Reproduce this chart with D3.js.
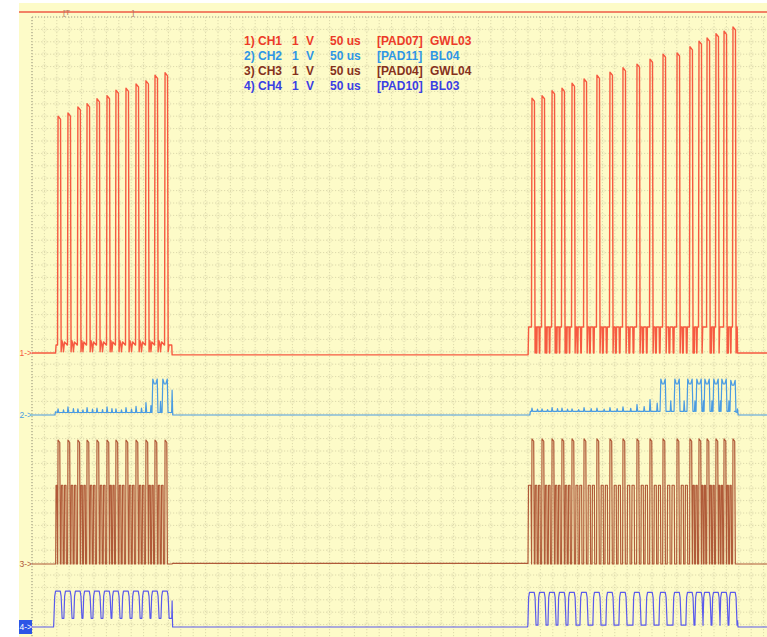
<!DOCTYPE html>
<html>
<head>
<meta charset="utf-8">
<script src="https://cdn.jsdelivr.net/npm/d3@7/dist/d3.min.js"></script>
<style>
  html, body { margin: 0; padding: 0; background: #fff; }
  text { font-family: "Liberation Sans", Arial, sans-serif; }
</style>
</head>
<body>
<div id="scope"></div>
<script>
// values: time in us (50 us / div), level in V (1 V / div)
var pulseTimesLeft = [21, 29, 37, 44.4, 52.4, 60.5, 67.7, 75.8, 83.9, 91.9, 99.2, 107.3];
var pulseTimesRight = [403.2, 411.3, 419.4, 427.4, 435.5, 445.2, 455.6, 466.1, 476.6, 487.9,
  498.4, 508.9, 520.2, 530.6, 537.9, 544.4, 551.6, 558.1, 565.3];
var burstLeft = [18.5, 113];
var burstRight = [399.5, 569];

// CH1 - GWL03
var ch1PeaksLeft = [3.82, 3.87, 3.97, 4.02, 4.1, 4.15, 4.24, 4.27, 4.34, 4.39, 4.48, 4.52];
var ch1PeaksRight = [4.11, 4.15, 4.23, 4.27, 4.35, 4.42, 4.48, 4.53, 4.6, 4.66, 4.74, 4.82,
  4.84, 4.94, 5.03, 5.08, 5.15, 5.19, 5.26];
var ch1GapLevel = [0.13, 0.42];

// CH2 - BL04
var ch2PeaksLeft = [0.1, 0.13, 0.1, 0.12, 0.11, 0.13, 0.1, 0.12, 0.14, 0.2, 0.58, 0.58];
var ch2PeaksRight = [0.11, 0.1, 0.12, 0.11, 0.1, 0.12, 0.11, 0.12, 0.13, 0.17, 0.25, 0.58,
  0.58, 0.58, 0.58, 0.58, 0.58, 0.58, 0.56];
var ch2EndSpikes = [0.4, 0.1];

// CH3 - GWL04
var ch3Peak = [2.0, 2.02];
var ch3Mid = 1.27;

// CH4 - BL03
var ch4Top = [0.58, 0.56];
var ch4Trough = [0.14, 0.03];
var ch4EndSpikes = [0.42, 0.1];

var legendRows = [
  ["1) CH1", "1", "V", "50 us", "[PAD07]", "GWL03"],
  ["2) CH2", "1", "V", "50 us", "[PAD11]", "BL04"],
  ["3) CH3", "1", "V", "50 us", "[PAD04]", "GWL04"],
  ["4) CH4", "1", "V", "50 us", "[PAD10]", "BL03"]
];

var cfg = {
  w: 767, h: 637,
  left: 32, top: 17,
  div: 12.4,
  baselines: [353, 415, 564, 627],
  traceColors: ["#f65a40", "#4a9be2", "#b05a38", "#5a5aec"],
  textColors: ["#ec3a28", "#2f96e6", "#86301c", "#3a40e4"],
  legendX: [244, 292, 306, 330, 377, 430],
  legendY: 45, legendStep: 15
};

var svg = d3.select("#scope").append("svg")
  .attr("width", cfg.w).attr("height", cfg.h);

// time scale: minor grid = 10 us
var x = d3.scaleLinear().domain([0, 593]).range([cfg.left, cfg.left + 593 * cfg.div / 10]);
var yScales = cfg.baselines.map(function(b) {
  return d3.scaleLinear().domain([0, 1]).range([b, b - 5 * cfg.div]);
});

// screen background
svg.append("rect").attr("x", 19).attr("y", 3).attr("width", cfg.w - 19).attr("height", cfg.h - 3)
  .attr("fill", "#fdfbc8");

// grid
var grid = svg.append("g");
var gx = d3.range(0, 593, 10);
var gy = d3.range(0, 50);
grid.selectAll(".vl").data(gx).enter().append("line")
  .attr("x1", function(d) { return x(d); }).attr("x2", function(d) { return x(d); })
  .attr("y1", cfg.top).attr("y2", cfg.h)
  .attr("stroke", function(d) { return d == 0 ? "#8d8a74" : "#dcd9aa"; })
  .attr("stroke-dasharray", "1.2,1.8");
grid.selectAll(".hl").data(gy).enter().append("line")
  .attr("x1", cfg.left).attr("x2", cfg.w)
  .attr("y1", function(d) { return cfg.top + d * cfg.div; })
  .attr("y2", function(d) { return cfg.top + d * cfg.div; })
  .attr("stroke", function(d) { return d == 0 ? "#a09d84" : "#dcd9aa"; })
  .attr("stroke-dasharray", "1.2,1.8");
var cross = [];
gx.forEach(function(a) { gy.forEach(function(b) { if (a > 0 && b > 0) cross.push([a, b]); }); });
grid.selectAll("circle").data(cross).enter().append("circle")
  .attr("cx", function(d) { return x(d[0]); })
  .attr("cy", function(d) { return cfg.top + d[1] * cfg.div; })
  .attr("r", 2.2)
  .attr("fill", "none").attr("stroke", "#ebe8bc").attr("stroke-width", 0.7);

// top trigger bar
svg.append("line").attr("x1", 19).attr("x2", cfg.w).attr("y1", 12).attr("y2", 12)
  .attr("stroke", "#ee5a44").attr("stroke-width", 1.3);
svg.append("text").attr("x", 63).attr("y", 15).attr("font-size", 8).attr("fill", "#b0705a").text("[T");
svg.append("text").attr("x", 132).attr("y", 15).attr("font-size", 8).attr("fill", "#b0705a").text("]");

// ---- waveform builders ----
function nextTime(times, i, end) {
  return i < times.length - 1 ? times[i + 1] : end;
}

function ch1Points() {
  var pts = [[0, 0], [burstLeft[0] + 0.5, 0], [burstLeft[0] + 0.9, ch1GapLevel[0]]];
  pulseTimesLeft.forEach(function(tp, i) {
    var nxt = nextTime(pulseTimesLeft, i, burstLeft[1]), g = nxt - tp, lo = ch1GapLevel[0];
    var pk = ch1PeaksLeft[i];
    pts.push([tp - 0.4, lo], [tp, pk], [tp + 2.0, pk - 0.05], [tp + 2.5, 0.02]);
    if (g > 7) {
      pts.push([tp + 3.2, lo + 0.07], [tp + 0.5 * g, lo], [tp + 0.55 * g, 0.02],
        [tp + 0.65 * g, lo + 0.05], [nxt - 0.6, lo]);
    } else {
      pts.push([tp + 3.2, lo], [nxt - 0.3, lo]);
    }
  });
  pts.push([burstLeft[1], -0.03], [burstRight[0] + 0.6, -0.03], [burstRight[0] + 1, ch1GapLevel[1]]);
  pulseTimesRight.forEach(function(tp, i) {
    var nxt = nextTime(pulseTimesRight, i, burstRight[1]), g = nxt - tp, hi = ch1GapLevel[1];
    var pk = ch1PeaksRight[i];
    pts.push([tp - 0.4, hi], [tp, pk], [tp + 2.0, pk - 0.05], [tp + 2.5, 0]);
    if (g > 7) {
      pts.push([tp + 3.0, hi], [tp + 0.4 * g, hi], [tp + 0.4 * g + 0.3, 0], [tp + 0.48 * g, 0],
        [tp + 0.48 * g + 0.3, hi], [tp + 0.7 * g, hi], [tp + 0.7 * g + 0.3, 0], [tp + 0.77 * g, 0],
        [tp + 0.77 * g + 0.3, hi], [nxt - 0.4, hi]);
    } else {
      pts.push([tp + 3.0, hi], [nxt - 0.3, hi]);
    }
  });
  pts.push([burstRight[1], 0], [593, 0]);
  return pts;
}

function ch2Burst(pts, times, peaks, end, low) {
  times.forEach(function(tp, i) {
    var nxt = nextTime(times, i, end), g = nxt - tp, pk = peaks[i];
    if (pk > 0.4) {
      pts.push([tp - 2.4, low], [tp - 1.8, pk], [tp - 0.6, pk - 0.08], [tp + 0.6, pk - 0.08],
        [tp + 1.8, pk], [tp + 2.4, low]);
    } else {
      pts.push([tp - 0.4, low], [tp, pk], [tp + 0.6, low]);
    }
    if (g > 6) {
      var m = tp + 0.55 * g;
      pts.push([m - 0.4, low], [m, Math.min(pk, 0.3) * 0.7 + low * 0.3], [m + 0.5, low]);
    }
    pts.push([nxt - 2.6, low]);
  });
}

function ch2Points() {
  var pts = [[0, 0], [burstLeft[0], 0], [burstLeft[0] + 0.4, 0.05]];
  ch2Burst(pts, pulseTimesLeft, ch2PeaksLeft, burstLeft[1], 0.04);
  pts.push([burstLeft[1] - 0.4, 0.04], [burstLeft[1], ch2EndSpikes[0]], [burstLeft[1] + 0.5, 0],
    [burstRight[0] + 2, 0], [burstRight[0] + 2.4, 0.06]);
  ch2Burst(pts, pulseTimesRight, ch2PeaksRight, burstRight[1], 0.06);
  pts.push([burstRight[1] - 0.4, 0.04], [burstRight[1], ch2EndSpikes[1]], [burstRight[1] + 0.5, 0], [593, 0]);
  return pts;
}

function ch3Burst(pts, times, end, peak) {
  times.forEach(function(tp, i) {
    var nxt = nextTime(times, i, end), g = nxt - tp;
    pts.push([tp - 0.3, 0], [tp, peak], [tp + 1.4, peak - 0.04], [tp + 1.9, 0]);
    if (g > 6) {
      [0.3, 0.62].forEach(function(f) {
        var a = tp + f * g, w = 0.18 * g;
        pts.push([a, 0], [a + 0.3, ch3Mid], [a + w, ch3Mid], [a + w + 0.3, 0]);
      });
    }
    pts.push([nxt - 0.3, 0]);
  });
}

function ch3Points() {
  var pts = [[0, 0], [burstLeft[0] + 0.6, 0], [burstLeft[0] + 0.9, ch3Mid], [pulseTimesLeft[0] - 0.8, ch3Mid]];
  ch3Burst(pts, pulseTimesLeft, burstLeft[1], ch3Peak[0]);
  pts.push([burstLeft[1], 0], [burstLeft[1] + 0.3, 0.01], [burstRight[0] + 0.5, 0.01],
    [burstRight[0] + 0.9, ch3Mid], [pulseTimesRight[0] - 0.8, ch3Mid]);
  ch3Burst(pts, pulseTimesRight, burstRight[1], ch3Peak[1]);
  pts.push([burstRight[1], 0], [593, 0]);
  return pts;
}

function ch4Burst(pts, times, top, trough) {
  times.forEach(function(tp) {
    pts.push([tp - 3.3, trough], [tp - 2.7, top * 0.85], [tp - 2.0, top], [tp + 1.8, top],
      [tp + 2.5, top * 0.85], [tp + 3.3, trough]);
  });
}

function ch4Points() {
  var pts = [[0, 0], [pulseTimesLeft[0] - 3.6, 0]];
  ch4Burst(pts, pulseTimesLeft, ch4Top[0], ch4Trough[0]);
  pts.push([burstLeft[1] - 0.3, ch4Trough[0]], [burstLeft[1], ch4EndSpikes[0]], [burstLeft[1] + 0.4, 0],
    [pulseTimesRight[0] - 3.6, 0]);
  ch4Burst(pts, pulseTimesRight, ch4Top[1], ch4Trough[1]);
  pts.push([burstRight[1] - 0.3, ch4Trough[1]], [burstRight[1], ch4EndSpikes[1]], [burstRight[1] + 0.4, 0], [593, 0]);
  return pts;
}

var traces = [ch1Points(), ch2Points(), ch3Points(), ch4Points()];

var tg = svg.append("g");
traces.forEach(function(pts, k) {
  var line = d3.line()
    .x(function(d) { return x(d[0]); })
    .y(function(d) { return yScales[k](d[1]); });
  tg.append("path")
    .attr("d", line(pts))
    .attr("fill", "none")
    .attr("stroke", cfg.traceColors[k])
    .attr("stroke-width", k == 0 ? 1.4 : 1.2)
    .attr("stroke-linejoin", "round");
});

// channel markers on the left edge
cfg.baselines.forEach(function(b, k) {
  if (k == 3) {
    svg.append("rect").attr("x", 19).attr("y", b - 7).attr("width", 13).attr("height", 14).attr("fill", "#2c55e6");
  }
  svg.append("text").attr("x", 19.5).attr("y", b + 3)
    .attr("font-size", 8.5)
    .attr("fill", k == 3 ? "#fff" : cfg.traceColors[k])
    .text((k + 1) + "->");
});

// legend
var lg = svg.append("g").attr("font-weight", "bold").attr("font-size", 12);
legendRows.forEach(function(row, r) {
  row.forEach(function(s, c) {
    lg.append("text")
      .attr("x", cfg.legendX[c])
      .attr("y", cfg.legendY + r * cfg.legendStep)
      .attr("fill", cfg.textColors[r])
      .text(s);
  });
});
</script>
</body>
</html>
